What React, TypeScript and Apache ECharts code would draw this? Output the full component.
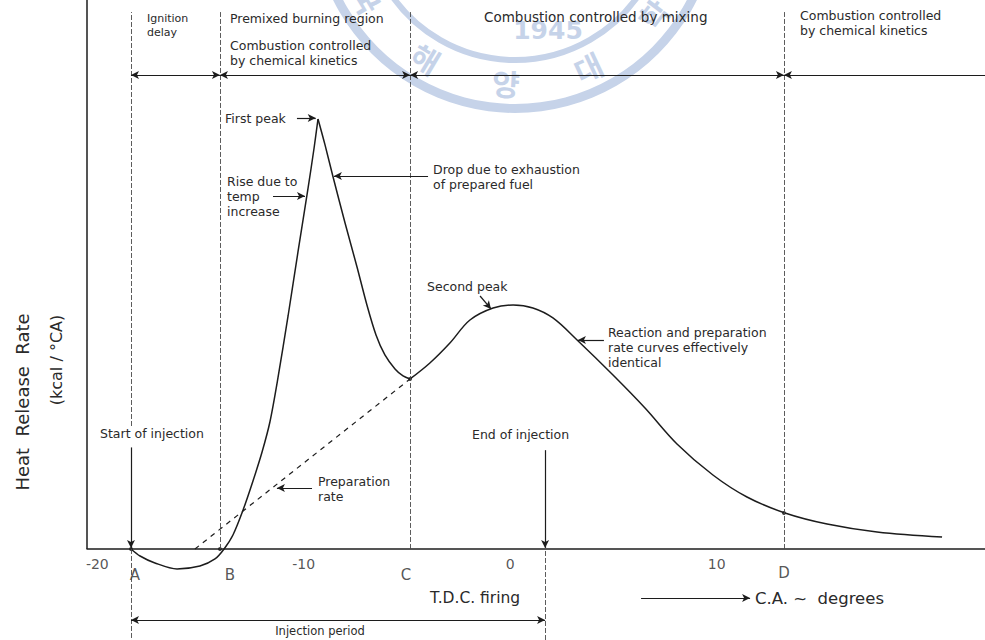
import React, { useEffect, useRef } from "react";
import * as echarts from "echarts";

// ---- data (crank angle in degrees, heat release rate in arbitrary units) ----
const xTicks = [-20, -10, 0, 10];

// premixed rise: start of injection (A) -> dip -> B -> first peak
const riseDeg = [-18.37, -17.93, -17.21, -16.14, -15.03, -14.3, -13.86, -13.43, -12.94, -12.46, -12.02, -11.64, -11.25, -10.76, -10.28, -9.79, -9.5, -9.31];
const riseVal = [0, -1.28, -2.55, -3.64, -3.1, -1.82, 0, 2.55, 7.1, 12.39, 17.67, 23.13, 31.15, 42.44, 54.1, 65.76, 73.04, 78.32];

// drop from first peak to C
const dropDeg = [-9.31, -8.97, -8.58, -8.0, -7.42, -6.94, -6.5, -6.07, -5.58, -5.19, -4.85];
const dropVal = [78.32, 73.6, 67.76, 59.38, 51.37, 44.44, 38.98, 35.34, 32.79, 31.51, 30.97];

// mixing controlled combustion: C -> second peak -> tail
const mixDeg = [-4.85, -3.89, -2.92, -1.95, -0.83, 0.14, 1.1, 2.07, 3.24, 4.98, 6.53, 8.08, 9.82, 11.47, 13.31, 15.35, 17.77, 20.92];
const mixVal = [30.97, 33.88, 37.52, 41.71, 43.9, 44.44, 43.9, 42.08, 38.07, 31.69, 25.68, 19.13, 13.48, 9.47, 6.56, 4.55, 3.1, 2.19];

// preparation rate (dashed)
const prepDeg = [-15.27, -4.85];
const prepVal = [0, 30.97];

// event markers
const eventNames = ["A", "B", "C", "D"];
const eventDeg = [-18.37, -14.06, -4.85, 13.26];
const endInjectionDeg = 1.69;

const X_MIN = -20.5;
const X_MAX = 23;
const Y_MIN = -16.58;
const Y_MAX = 100;

const pairs = (xs: number[], ys: number[]) => xs.map((x, i) => [x, ys[i]]);

const FONT = "'DejaVu Sans', Verdana, sans-serif";
const INK = "#1c1c1c";
const TXT = "#2a2a2a";
const WM = "#c6d3e9";

function txt(x: number, y: number, text: string, size = 12, extra: any = {}, el: any = {}) {
  return {
    type: "text",
    x,
    y,
    silent: true,
    z: 10,
    ...el,
    style: {
      text,
      fill: TXT,
      fontSize: size,
      fontFamily: FONT,
      align: "left",
      verticalAlign: "middle",
      lineHeight: Math.round(size * 1.2),
      ...extra,
    },
  };
}

function watermark() {
  const cx = 515;
  const cy = -90;
  const chars = ["국", "해", "양", "대", "학"];
  const angles = [149, 121, 93, 65, 37];
  const els: any[] = [
    { type: "ring", shape: { cx, cy, r: 203, r0: 194 }, style: { fill: WM }, silent: true, z: -5 },
    { type: "circle", shape: { cx, cy, r: 150 }, style: { fill: "none", stroke: WM, lineWidth: 6 }, silent: true, z: -5 },
    {
      type: "text",
      x: 548,
      y: 30,
      silent: true,
      z: -5,
      style: { text: "1945", fill: WM, fontSize: 25, fontWeight: "bold", fontFamily: FONT, align: "center", verticalAlign: "middle" },
    },
  ];
  chars.forEach((c, i) => {
    const a = (angles[i] * Math.PI) / 180;
    const r = 173;
    els.push({
      type: "text",
      x: cx + r * Math.cos(a),
      y: cy + r * Math.sin(a),
      rotation: ((90 - angles[i]) * Math.PI) / 180,
      silent: true,
      z: -5,
      style: {
        text: c,
        fill: WM,
        fontSize: 30,
        fontWeight: "bold",
        fontFamily: "'Noto Sans CJK KR', sans-serif",
        align: "center",
        verticalAlign: "middle",
      },
    });
  });
  return els;
}

export default function App() {
  const ref = useRef<HTMLDivElement>(null);

  useEffect(() => {
    if (!ref.current) return;
    const chart = echarts.init(ref.current, undefined, { renderer: "svg" });

    const [A, B, C, D] = eventDeg;
    const topV = 97.8;
    const arrowRowV = 86.34;
    const injV = -12.93;
    const caV = -8.93;

    const thin = { color: "#4a4a4a", width: 0.9, type: [5, 2] as any };
    const solid = { color: INK, width: 1.2, type: "solid" as any };
    const AS: any = [6, 8];

    const seg = (x1: number, y1: number, x2: number, y2: number, s1: string, s2: string, ls: any) => [
      { coord: [x1, y1], symbol: s1, symbolSize: AS },
      { coord: [x2, y2], symbol: s2, symbolSize: AS, lineStyle: ls },
    ];

    const markData: any[] = [
      // vertical event lines
      seg(A, 22.4, A, topV, "none", "none", thin),
      seg(A, 0, A, Y_MIN, "none", "none", thin),
      seg(B, 0, B, topV, "none", "none", thin),
      seg(C, 0, C, topV, "none", "none", thin),
      seg(D, 0, D, topV, "none", "none", thin),
      seg(endInjectionDeg, Y_MIN, endInjectionDeg, 0, "none", "none", thin),
      // start / end of injection arrows
      seg(A, 18.5, A, 0.2, "none", "arrow", solid),
      seg(endInjectionDeg, 18, endInjectionDeg, 0.2, "none", "arrow", solid),
      // top regime arrows
      seg(A, arrowRowV, B, arrowRowV, "arrow", "arrow", solid),
      seg(B, arrowRowV, C, arrowRowV, "arrow", "arrow", solid),
      seg(C, arrowRowV, D, arrowRowV, "arrow", "arrow", solid),
      seg(D, arrowRowV, X_MAX, arrowRowV, "arrow", "none", solid),
      // injection period
      seg(A, injV, endInjectionDeg, injV, "arrow", "arrow", solid),
      // C.A. arrow
      seg(6.34, caV, 11.62, caV, "none", "arrow", solid),
      // annotation pointers
      seg(-10.33, 78.5, -9.42, 78.5, "none", "arrow", solid),
      seg(-11.49, 64.3, -9.94, 64.3, "none", "arrow", solid),
      seg(-3.98, 67.94, -8.54, 67.94, "none", "arrow", solid),
      seg(-1.46, 46.08, -0.93, 43.72, "none", "arrow", solid),
      seg(4.54, 38.07, 3.28, 38.07, "none", "arrow", solid),
      seg(-9.6, 11.11, -11.3, 11.11, "none", "arrow", solid),
    ];

    const curveStyle = { color: INK, width: 1.5 };
    const eventOffsets = [[4, 0], [10, 0], [-4, 0], [0, -2]];

    const option: any = {
      animation: false,
      backgroundColor: "#ffffff",
      grid: { left: 87, right: 0, top: 0, bottom: 0, containLabel: false, outerBoundsMode: "none" },
      xAxis: {
        type: "value",
        min: X_MIN,
        max: X_MAX,
        axisLine: { show: true, onZero: true, lineStyle: { color: INK, width: 1.5 } },
        axisTick: { show: false },
        splitLine: { show: false },
        axisLabel: { show: false },
      },
      yAxis: {
        type: "value",
        min: Y_MIN,
        max: Y_MAX,
        show: false,
        splitLine: { show: false },
      },
      graphic: [
        ...watermark(),
        txt(22, 402, "Heat  Release  Rate", 18, { align: "center" }, { rotation: Math.PI / 2 }),
        txt(56, 360, "(kcal / °CA)", 16, { align: "center" }, { rotation: Math.PI / 2 }),
        txt(147, 25, "Ignition\ndelay", 11, { lineHeight: 14 }),
        txt(230, 18, "Premixed burning region", 12.5),
        txt(230, 53, "Combustion controlled\nby chemical kinetics", 12.5, { lineHeight: 15 }),
        txt(484, 17, "Combustion controlled by mixing", 13.5),
        txt(800, 23, "Combustion controlled\nby chemical kinetics", 12.5, { lineHeight: 15 }),
        txt(225, 118, "First peak", 12.5),
        txt(227, 196, "Rise due to\ntemp\nincrease", 12.5, { lineHeight: 15 }),
        txt(433, 177, "Drop due to exhaustion\nof prepared fuel", 12.5, { lineHeight: 15 }),
        txt(427, 286, "Second peak", 12.5),
        txt(608, 347, "Reaction and preparation\nrate curves effectively\nidentical", 12.5, { lineHeight: 15 }),
        txt(100, 433, "Start of injection", 12.5),
        txt(472, 434, "End of injection", 12.5),
        txt(318, 489, "Preparation\nrate", 12.5, { lineHeight: 15 }),
        txt(430, 598, "T.D.C. firing", 15.5),
        txt(755, 598, "C.A. ~  degrees", 16.5),
        txt(320, 631, "Injection period", 11.5, { align: "center" }),
      ],
      series: [
        {
          name: "axis-left",
          type: "line",
          data: [
            [X_MIN, 0],
            [X_MIN, Y_MAX],
          ],
          symbol: "none",
          silent: true,
          lineStyle: { color: INK, width: 1.5 },
        },
        {
          name: "rise",
          type: "line",
          data: pairs(riseDeg, riseVal),
          smooth: 0.3,
          symbol: "none",
          lineStyle: curveStyle,
        },
        {
          name: "drop",
          type: "line",
          data: pairs(dropDeg, dropVal),
          smooth: 0.3,
          symbol: "none",
          lineStyle: curveStyle,
        },
        {
          name: "mixing",
          type: "line",
          data: pairs(mixDeg, mixVal),
          smooth: 0.35,
          symbol: "none",
          lineStyle: curveStyle,
        },
        {
          name: "preparation",
          type: "line",
          data: pairs(prepDeg, prepVal),
          symbol: "none",
          lineStyle: { color: INK, width: 1.2, type: [5, 5] },
        },
        {
          name: "ticks",
          type: "scatter",
          data: xTicks.map((t) => ({ value: [t, 0], name: String(t) })),
          symbolSize: 0,
          silent: true,
          label: {
            show: true,
            position: "bottom",
            distance: 8,
            formatter: (p: any) => p.name,
            color: TXT,
            fontSize: 14,
            fontFamily: FONT,
          },
        },
        {
          name: "events",
          type: "scatter",
          data: eventDeg.map((d, i) => ({
            value: [d, -4.7],
            name: eventNames[i],
            label: { offset: eventOffsets[i] },
          })),
          symbolSize: 0,
          silent: true,
          label: {
            show: true,
            position: "inside",
            formatter: (p: any) => p.name,
            color: TXT,
            fontSize: 15,
            fontFamily: FONT,
          },
        },
        {
          name: "points",
          type: "scatter",
          data: [
            [eventDeg[0], 0],
            [eventDeg[1], 0],
            [eventDeg[2], 30.97],
            [eventDeg[3], 6.56],
          ],
          symbolSize: 4,
          itemStyle: { color: INK },
          silent: true,
        },
        {
          name: "guides",
          type: "line",
          data: [],
          silent: true,
          markLine: {
            silent: true,
            animation: false,
            label: { show: false },
            emphasis: { disabled: true },
            data: markData,
          },
        },
      ],
    };

    chart.setOption(option);
    return () => chart.dispose();
  }, []);

  return (
    <div
      ref={ref}
      style={{ width: 985, height: 640, position: "fixed", left: 0, top: 0, background: "#fff" }}
    />
  );
}
